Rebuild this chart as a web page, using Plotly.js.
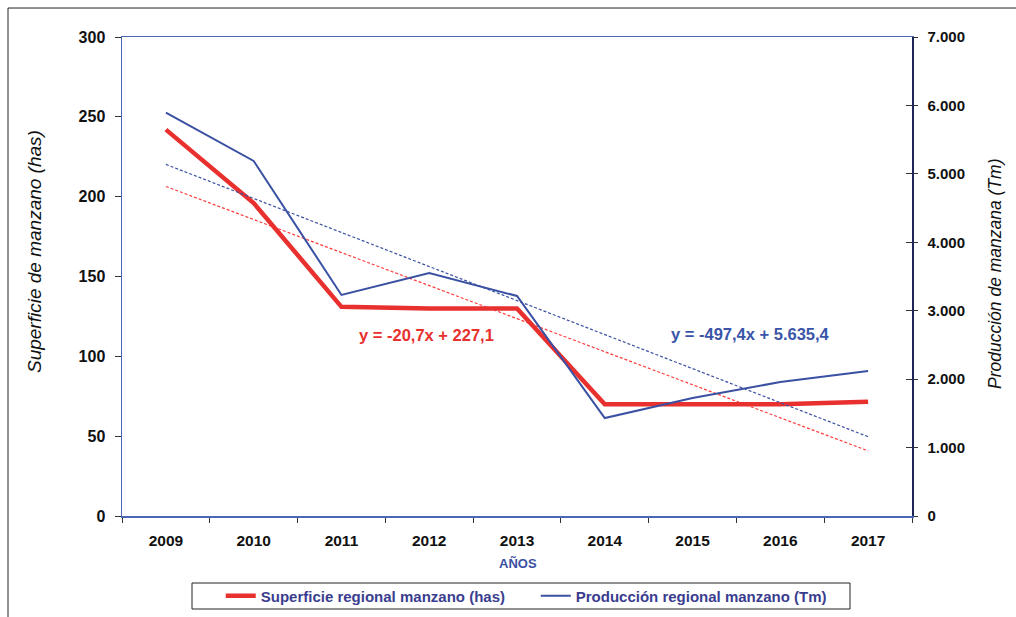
<!DOCTYPE html>
<html>
<head>
<meta charset="utf-8">
<script src="https://cdn.plot.ly/plotly-3.0.1.min.js"></script>
<style>html,body{margin:0;padding:0;background:#fff;}#chart{width:1016px;height:617px;}</style>
</head>
<body>
<div id="chart"></div>
<script>
// ---- data ----
const years = ["2009","2010","2011","2012","2013","2014","2015","2016","2017"];
const superficie = [242, 196, 131, 130, 130, 70, 70, 70, 71.5];
const produccion = [5894, 5188, 3230, 3551, 3215, 1432, 1724, 1958, 2119];
const trendSup = {slope: -20.7, intercept: 227.1, label: "y = -20,7x + 227,1"};
const trendProd = {slope: -497.4, intercept: 5635.4, label: "y = -497,4x + 5.635,4"};
const leftTicks = [0, 50, 100, 150, 200, 250, 300];
const rightTicks = [0, 1000, 2000, 3000, 4000, 5000, 6000, 7000];

const red = "#e8302e", blue = "#3a50a2", navy = "#3a3d8f";
const trendY = t => years.map((_, i) => t.slope * (i + 1) + t.intercept);
const F = "Liberation Sans, Arial, sans-serif";

const traces = [
  {x: years, y: trendY(trendSup), type: "scatter", mode: "lines", showlegend: false, hoverinfo: "skip",
   line: {color: "#ff3c3c", width: 1.2, dash: "3px,2px"}, yaxis: "y"},
  {x: years, y: trendY(trendProd), type: "scatter", mode: "lines", showlegend: false, hoverinfo: "skip",
   line: {color: "#3a50a2", width: 1.2, dash: "3px,2px"}, yaxis: "y2"},
  {x: years, y: produccion, type: "scatter", mode: "lines", name: "Producción regional manzano (Tm)",
   line: {color: blue, width: 2}, yaxis: "y2", legendrank: 2},
  {x: years, y: superficie, type: "scatter", mode: "lines", name: "Superficie regional manzano (has)",
   line: {color: red, width: 4.5}, yaxis: "y", legendrank: 1},
  {x: [years[0]], y: [0], yaxis: "y3", type: "scatter", mode: "lines", showlegend: false, hoverinfo: "skip",
   line: {width: 0}}
];

const layout = {
  width: 1016, height: 617,
  margin: {l: 122, r: 104, t: 37, b: 101, autoexpand: false},
  paper_bgcolor: "#fff", plot_bgcolor: "#fff",
  separators: ",.",
  showlegend: true,
  legend: {orientation: "h", x: 0.125, xanchor: "left", y: -0.167, yanchor: "middle",
           font: {family: F, size: 15, color: navy, weight: "bold"}, bgcolor: "rgba(0,0,0,0)",
           borderwidth: 0, entrywidth: 270, entrywidthmode: "pixels", traceorder: "normal"},
  xaxis: {type: "category", range: [-0.5, 8.5], tickson: "boundaries", ticks: "outside", ticklen: 5, tickcolor: "#333",
          showline: true, linecolor: "#4a67b5", linewidth: 1.5, mirror: true, showgrid: false, zeroline: false,
          ticklabelstandoff: 10, automargin: false,
          tickfont: {family: F, size: 15.5, color: "#111", weight: "bold"}},
  yaxis: {range: [0, 300], tickvals: leftTicks, ticks: "outside", ticklen: 6, tickcolor: "#333",
          showline: true, linecolor: "#4a67b5", linewidth: 1.5, showgrid: false, zeroline: false,
          ticklabelstandoff: 6, automargin: false,
          tickfont: {family: F, size: 16, color: "#111", weight: "bold"}},
  yaxis2: {range: [0, 7000], tickvals: rightTicks, tickformat: ",", overlaying: "y", side: "right",
           ticks: "outside", ticklen: 4, tickcolor: "#333",
           showline: true, linecolor: "#1e2559", linewidth: 1.5, showgrid: false, zeroline: false,
           ticklabelstandoff: 7, automargin: false,
           tickfont: {family: F, size: 15, color: "#111", weight: "bold"}},
  yaxis3: {range: [0, 7000], tickvals: rightTicks, overlaying: "y", side: "right", ticks: "inside", ticklen: 6,
           tickcolor: "#333", showticklabels: false, showline: false, showgrid: false, zeroline: false, automargin: false},
  annotations: [
    {xref: "paper", yref: "paper", x: 0.386, y: 0.378, xanchor: "center", yanchor: "middle",
     text: trendSup.label, showarrow: false, font: {family: F, size: 16.5, color: red, weight: "bold"}},
    {xref: "paper", yref: "paper", x: 0.795, y: 0.380, xanchor: "center", yanchor: "middle",
     text: trendProd.label, showarrow: false, font: {family: F, size: 16.5, color: "#3a55a8", weight: "bold"}},
    {xref: "paper", yref: "paper", x: (35-122)/790, y: (516-252)/479, xanchor: "center", yanchor: "middle",
     text: "Superficie de manzano (has)", textangle: -90, showarrow: false,
     font: {family: F, size: 19, color: "#111", style: "italic"}},
    {xref: "paper", yref: "paper", x: (995-122)/790, y: (516-273)/479, xanchor: "center", yanchor: "middle",
     text: "Producción de manzana (Tm)", textangle: -90, showarrow: false,
     font: {family: F, size: 17.5, color: "#111", style: "italic"}},
    {xref: "paper", yref: "paper", x: (518-122)/790, y: (516-563)/479, xanchor: "center", yanchor: "middle",
     text: "AÑOS", showarrow: false, font: {family: F, size: 13, color: blue, weight: "bold"}}
  ],
  shapes: [
    {type: "rect", xref: "paper", yref: "paper", x0: -0.1443, x1: 1.3, y0: -0.4, y1: 1.0605,
     line: {color: "#222", width: 1}, fillcolor: "rgba(0,0,0,0)"},
    {type: "rect", xref: "paper", yref: "paper", x0: (192-122)/790, x1: (850-122)/790,
     y0: (516-609)/479, y1: (516-583)/479, line: {color: "#222", width: 1}, fillcolor: "rgba(0,0,0,0)"}
  ]
};

Plotly.newPlot("chart", traces, layout, {displayModeBar: false, staticPlot: true});
</script>
</body>
</html>
